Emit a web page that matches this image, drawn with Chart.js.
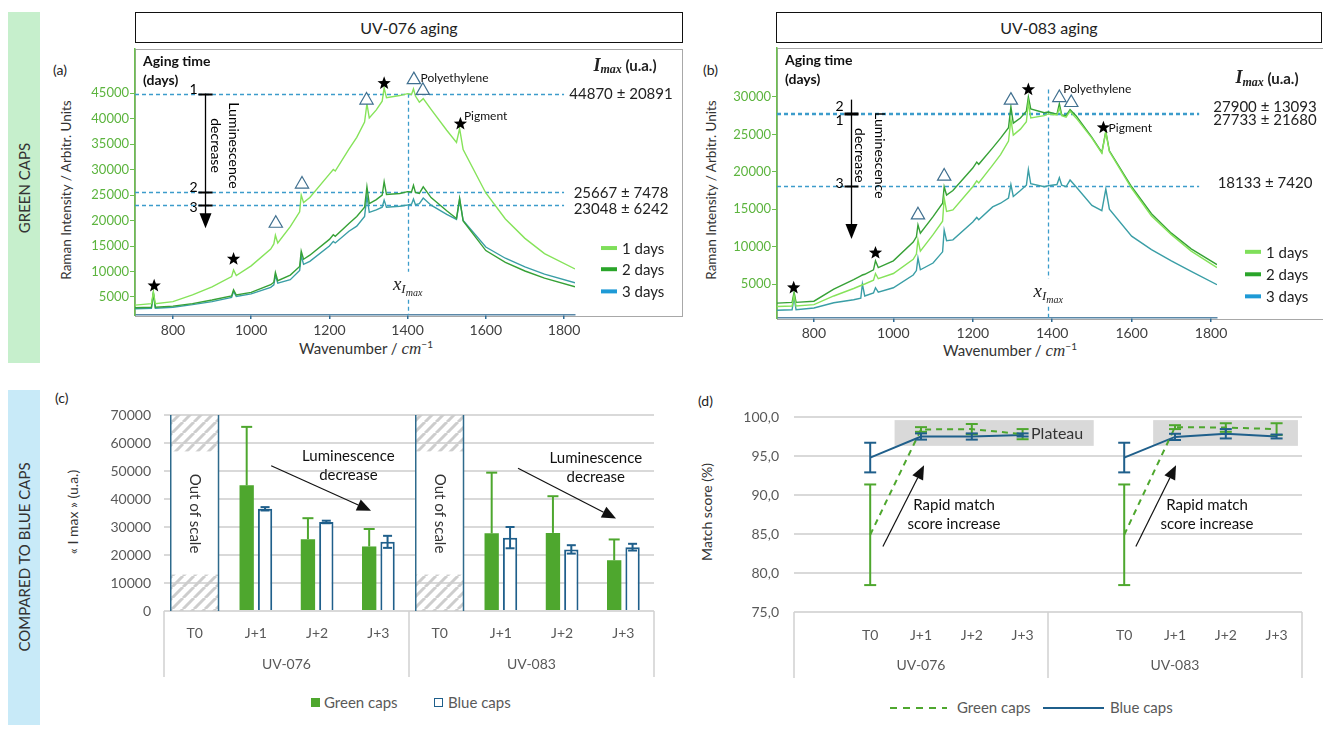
<!DOCTYPE html>
<html>
<head>
<meta charset="utf-8">
<script src="https://cdn.jsdelivr.net/npm/chart.js@4.4.0/dist/chart.umd.min.js"></script>
<style>
  body { margin: 0; width: 1323px; height: 730px; position: relative; overflow: hidden; background: #fff;
         font-family: Lato, "Open Sans", sans-serif; color: #222; }
  .abs { position: absolute; }
  canvas { position: absolute; }
  .rot { position: absolute; transform: translate(-50%, -50%) rotate(-90deg); white-space: nowrap; }
  .ctr { position: absolute; transform: translate(-50%, -50%); white-space: nowrap; }
  .titlebox { position: absolute; border: 1.5px solid #111; height: 29px; line-height: 29px; text-align: center; font-size: 16px; }
  .frame { position: absolute; border: 1px solid #a8a8a8; }
  .leg { position: absolute; font-size: 15px; color: #595959; line-height: 18px; white-space: nowrap; }
</style>
</head>
<body>

<div class="abs" style="left:8px;top:12px;width:32px;height:351px;background:#c6efcc"></div>
<div class="rot" style="left:24px;top:188px;font-size:15px;color:#333">GREEN CAPS</div>
<div class="abs" style="left:8px;top:390px;width:32px;height:335px;background:#c8eaf8"></div>
<div class="rot" style="left:24px;top:557px;font-size:15px;color:#333">COMPARED TO BLUE CAPS</div>

<div class="titlebox" style="left:135px;top:12px;width:546px">UV-076 aging</div>
<div class="titlebox" style="left:776px;top:12px;width:544px">UV-083 aging</div>

<div class="frame" style="left:135px;top:49px;width:546px;height:266px"></div>
<div class="frame" style="left:777px;top:48px;width:560px;height:270px"></div>

<div class="abs" style="left:53px;top:61px;font-size:14px">(a)</div>
<div class="abs" style="left:703px;top:61px;font-size:14px">(b)</div>
<div class="abs" style="left:55px;top:389px;font-size:14px">(c)</div>
<div class="abs" style="left:698px;top:392px;font-size:14px">(d)</div>

<div class="rot" style="left:66px;top:190px;font-size:13.5px;color:#333">Raman Intensity / Arbitr. Units</div>
<div class="rot" style="left:711px;top:190px;font-size:13.5px;color:#333">Raman Intensity / Arbitr. Units</div>
<div class="ctr" style="left:366px;top:348px;font-size:15px;color:#333">Wavenumber / <i style="font-family:'Liberation Serif',serif;font-size:17px">cm</i><sup style="font-size:10px">−1</sup></div>
<div class="ctr" style="left:1010px;top:350px;font-size:15px;color:#333">Wavenumber / <i style="font-family:'Liberation Serif',serif;font-size:17px">cm</i><sup style="font-size:10px">−1</sup></div>
<div class="rot" style="left:72px;top:512px;font-size:14px;color:#333">« I max » (u.a.)</div>
<div class="rot" style="left:706px;top:512px;font-size:14px;color:#333">Match score (%)</div>

<canvas id="specA" width="650" height="330" style="left:40px;top:44px"></canvas>
<canvas id="specB" width="633" height="330" style="left:690px;top:44px"></canvas>
<canvas id="barsC" width="640" height="290" style="left:40px;top:400px"></canvas>
<canvas id="scoreD" width="633" height="300" style="left:690px;top:395px"></canvas>

<div class="abs" style="left:311px;top:698px;width:9px;height:9px;background:#4ea72e"></div>
<div class="leg" style="left:324px;top:693px">Green caps</div>
<div class="abs" style="left:434px;top:698px;width:7px;height:7px;border:1.5px solid #1f5f8b"></div>
<div class="leg" style="left:448px;top:693px">Blue caps</div>

<svg class="abs" style="left:885px;top:700px" width="70" height="16">
  <line x1="5" y1="8" x2="62" y2="8" stroke="#4ea72e" stroke-width="2" stroke-dasharray="7,6"/>
</svg>
<div class="leg" style="left:957px;top:698px">Green caps</div>
<svg class="abs" style="left:1040px;top:700px" width="70" height="16">
  <line x1="3" y1="8" x2="64" y2="8" stroke="#1f5f8b" stroke-width="2"/>
</svg>
<div class="leg" style="left:1110px;top:698px">Blue caps</div>

<script>
// ---------- spectra (a) UV-076 ----------
const wnA = [703, 745, 750, 755, 800, 850, 900, 950, 955, 962, 1000, 1050, 1058, 1062, 1068, 1100, 1124, 1128, 1134, 1150,
             1200, 1210, 1215, 1250, 1270, 1290, 1296, 1302, 1320, 1335, 1340, 1346, 1380, 1400, 1410, 1415, 1420, 1430, 1440, 1460,
             1500, 1525, 1533, 1542, 1600, 1650, 1700, 1750, 1828];
const a1Day = [3400, 3700, 6000, 3700, 4100, 5400, 7000, 9000, 10300, 9200, 11100, 14400, 15400, 17100, 15600, 18800, 21700, 25000, 23500, 24500,
               29100, 30000, 29700, 34000, 36300, 39300, 42900, 40100, 41700, 43400, 46000, 44100, 44500, 44870, 44700, 45800, 44400, 43200, 43900, 41800,
               37700, 35300, 38000, 33900, 25400, 20300, 16500, 13500, 10500];
const a2Day = [2900, 3000, 5800, 3000, 3200, 3700, 4400, 5200, 6400, 5400, 5900, 7400, 7900, 9800, 8200, 9300, 11000, 14000, 12400, 13200,
               16300, 17200, 16900, 19400, 20800, 22600, 26600, 23300, 24100, 25000, 27600, 25100, 25300, 25667, 25600, 26900, 25500, 25300, 26600, 24500,
               21900, 20400, 24300, 19900, 14100, 11800, 10100, 8700, 7000];
const a3Day = [2700, 2800, 5700, 2800, 3000, 3500, 4100, 4900, 6100, 5100, 5600, 6900, 7400, 9300, 7700, 8400, 10200, 13100, 11400, 12000,
               15000, 15900, 15600, 17900, 18900, 20800, 24800, 21600, 22100, 22600, 24000, 22600, 22800, 23048, 23200, 24200, 23100, 23300, 24400, 23000,
               21200, 20200, 24200, 20000, 14800, 12600, 10900, 9500, 7800];
const imaxA = [44870, 25667, 23048];
const imaxErrA = [20891, 7478, 6242];

// ---------- spectra (b) UV-083 ----------
const wnB = [707, 745, 750, 755, 800, 850, 900, 918, 922, 928, 950, 955, 962, 1000, 1050, 1058, 1062, 1068, 1100, 1124,
             1128, 1134, 1150, 1200, 1210, 1215, 1250, 1270, 1290, 1296, 1302, 1320, 1335, 1340, 1346, 1380, 1390, 1412, 1418, 1424,
             1435, 1445, 1460, 1500, 1525, 1535, 1544, 1600, 1650, 1700, 1750, 1815];
const b1Day = [2000, 2050, 3500, 2050, 2250, 3400, 4400, 4800, 4900, 5000, 5500, 6400, 5700, 6400, 8300, 9000, 10900, 9400, 11600, 13400,
               16500, 14700, 14900, 18000, 18800, 18500, 20900, 22300, 24100, 27000, 24900, 25700, 26700, 29300, 27200, 27500, 27733, 27600, 28500, 27500,
               27300, 28100, 27200, 24500, 22500, 25300, 22700, 17800, 14100, 11600, 9400, 7200];
const b2Day = [2450, 2550, 3900, 2550, 2700, 4300, 5600, 6100, 6200, 6300, 6900, 8100, 7200, 8100, 10600, 11300, 12900, 11800, 14000, 15800,
               18000, 16900, 17500, 20500, 21300, 21000, 23200, 24500, 25900, 28700, 26500, 27200, 28100, 30000, 28400, 27900, 28000, 27700, 29100, 27600,
               27500, 28300, 27500, 24600, 22600, 25400, 22800, 18000, 14400, 11800, 9700, 7600];
const b3Day = [1500, 1550, 3200, 1550, 1800, 2500, 2900, 3100, 5000, 3400, 3800, 4500, 3900, 4500, 6200, 6800, 8500, 6900, 7800, 9300,
               12200, 10800, 10900, 13300, 13900, 13600, 15300, 15800, 16500, 18300, 16700, 17500, 18200, 20300, 18400, 18000, 18133, 18300, 19200, 18200,
               18000, 18900, 18000, 15500, 14800, 17700, 15000, 11400, 9600, 8100, 6700, 4900];
const imaxB = [27733, 27900, 18133];
const imaxErrB = [21680, 13093, 7420];

const dayLabels = ['1 days', '2 days', '3 days'];
const xTicksSpec = [800, 1000, 1200, 1400, 1600, 1800];
const yTicksA = [5000, 10000, 15000, 20000, 25000, 30000, 35000, 40000, 45000];
const yTicksB = [5000, 10000, 15000, 20000, 25000, 30000];

// ---------- (c) I max bars ----------
const groupLabels = ['UV-076', 'UV-083'];
const barCats = ['T0', 'J+1', 'J+2', 'J+3', 'T0', 'J+1', 'J+2', 'J+3'];
const greenImax = [null, 44870, 25667, 23048, null, 27733, 27900, 18133];
const greenImaxErr = [null, 20891, 7478, 6242, null, 21680, 13093, 7420];
const blueImax = [null, 36500, 31800, 24700, null, 26200, 22000, 22800];
const blueImaxErr = [null, 600, 450, 2150, null, 3800, 1500, 1200];
const outOfScale = [true, false, false, false, true, false, false, false];
const yTicksC = [0, 10000, 20000, 30000, 40000, 50000, 60000, 70000];

// ---------- (d) match score ----------
const scoreCats = ['', 'T0', 'J+1', 'J+2', 'J+3', '', 'T0', 'J+1', 'J+2', 'J+3'];
const greenScore = [null, 84.9, 98.4, 98.45, 97.8, null, 84.9, 98.7, 98.65, 98.45];
const greenScoreErr = [null, 6.45, 0.3, 0.65, 0.65, null, 6.45, 0.25, 0.55, 0.75];
const blueScore = [null, 94.8, 97.5, 97.5, 97.7, null, 94.8, 97.45, 97.85, 97.5];
const blueScoreErr = [null, 1.9, 0.4, 0.4, 0.2, null, 1.9, 0.4, 0.6, 0.25];
const yTicksD = [75, 80, 85, 90, 95, 100];

const GREEN = '#4ea72e', BLUE = '#1f5f8b';
const lineColors = ['#86e35a', '#36a136', '#3a9ea6'];
const legendColors = ['#7fdf5a', '#2aa52a', '#1e9ad6'];
const SERIF = '"Liberation Serif", "DejaVu Serif", serif';

Chart.defaults.font.family = 'Lato, "Open Sans", sans-serif';
Chart.defaults.animation = false;

function seg(ctx, x1, y1, x2, y2) {
  ctx.beginPath(); ctx.moveTo(x1, y1); ctx.lineTo(x2, y2); ctx.stroke();
}
function arrow(ctx, x1, y1, x2, y2, head, width) {
  const ang = Math.atan2(y2 - y1, x2 - x1);
  const bx = x2 - head * Math.cos(ang), by = y2 - head * Math.sin(ang);
  seg(ctx, x1, y1, bx, by);
  ctx.beginPath();
  ctx.moveTo(x2, y2);
  ctx.lineTo(bx + width / 2 * Math.sin(ang), by - width / 2 * Math.cos(ang));
  ctx.lineTo(bx - width / 2 * Math.sin(ang), by + width / 2 * Math.cos(ang));
  ctx.closePath(); ctx.fill();
}
function star(ctx, cx, cy, r) {
  ctx.beginPath();
  for (let k = 0; k < 10; k++) {
    const rr = k % 2 ? r * 0.42 : r, t = -Math.PI / 2 + k * Math.PI / 5;
    ctx.lineTo(cx + rr * Math.cos(t), cy + rr * Math.sin(t));
  }
  ctx.closePath(); ctx.fill();
}
function tri(ctx, cx, cy, r) {
  ctx.beginPath();
  ctx.moveTo(cx, cy - r); ctx.lineTo(cx + r * 0.95, cy + r * 0.65); ctx.lineTo(cx - r * 0.95, cy + r * 0.65);
  ctx.closePath(); ctx.fill(); ctx.stroke();
}
// draw a list of [text, font, dy] parts centred on cx
function richText(ctx, parts, cx, cy) {
  let total = 0;
  parts.forEach(p => { ctx.font = p[1]; total += ctx.measureText(p[0]).width; });
  let px = cx - total / 2;
  ctx.textAlign = 'left';
  parts.forEach(p => { ctx.font = p[1]; ctx.fillText(p[0], px, cy + p[2]); px += ctx.measureText(p[0]).width; });
}

function specNotes(o) {
  return {
    id: 'specNotes',
    beforeDatasetsDraw(chart) {
      const {ctx, chartArea: a, scales: {x, y}} = chart;
      ctx.save();
      ctx.strokeStyle = '#3c9ccb'; ctx.lineWidth = 1.3; ctx.setLineDash([4, 3]);
      o.imax.forEach(v => {
        const py = Math.round(y.getPixelForValue(v)) + 0.5;
        seg(ctx, a.left, py, x.getPixelForValue(o.dashTo), py);
      });
      const vx = Math.round(x.getPixelForValue(o.xImax)) + 0.5;
      const ly = y.getPixelForValue(o.xLabelAt);
      seg(ctx, vx, y.getPixelForValue(o.vTop), vx, ly - 15);
      seg(ctx, vx, ly + 13, vx, a.bottom);
      ctx.restore();
    },
    afterDatasetsDraw(chart) {
      const {ctx, chartArea: a, scales: {x, y}} = chart;
      const X = w => x.getPixelForValue(w), Y = v => y.getPixelForValue(v);
      ctx.save();
      ctx.textBaseline = 'middle';
      ctx.fillStyle = '#000';
      o.stars.forEach(p => star(ctx, X(p[0]), Y(p[1]), 7));
      ctx.fillStyle = '#fff'; ctx.strokeStyle = '#3f6f8f'; ctx.lineWidth = 1.2;
      o.tris.forEach(p => tri(ctx, X(p[0]), Y(p[1]), 7));

      ctx.fillStyle = '#111'; ctx.font = '12px Lato'; ctx.textAlign = 'left';
      ctx.fillText('Polyethylene', X(o.polyAt[0]), Y(o.polyAt[1]));
      ctx.fillText('Pigment', X(o.pigAt[0]), Y(o.pigAt[1]));

      ctx.font = 'bold 14px Lato';
      ctx.fillText('Aging time', a.left + 8, a.top + 12);
      ctx.fillText('(days)', a.left + 8, a.top + 31);

      // luminescence arrow with day ticks
      const ax = Math.round(X(o.arrowX)) + 0.5, tip = Y(o.arrowTip);
      ctx.strokeStyle = '#000'; ctx.fillStyle = '#000'; ctx.lineWidth = 1.3;
      seg(ctx, ax, Y(o.arrowTop), ax, tip - 12);
      ctx.beginPath(); ctx.moveTo(ax - 6, tip - 15); ctx.lineTo(ax + 6, tip - 15); ctx.lineTo(ax, tip); ctx.closePath(); ctx.fill();
      ctx.lineWidth = 2;
      o.imax.forEach(v => seg(ctx, ax - 7, Math.round(Y(v)) + 0.5, ax + 7, Math.round(Y(v)) + 0.5));
      ctx.font = '14px Lato'; ctx.textAlign = 'right';
      o.tickLab.forEach(p => ctx.fillText(p[0], ax - 8, Y(p[1])));
      ctx.textAlign = 'center'; ctx.font = '14px Lato';
      [['Luminescence', o.lumDx[0]], ['decrease', o.lumDx[1]]].forEach(p => {
        ctx.save(); ctx.translate(ax + p[1], Y(o.lumAt)); ctx.rotate(Math.PI / 2);
        ctx.fillText(p[0], 0, 0); ctx.restore();
      });

      // x Imax label
      const vx = X(o.xImax), ly = Y(o.xLabelAt);
      ctx.fillStyle = '#222';
      richText(ctx, [['x', 'italic 19px ' + SERIF, 0], ['I', 'italic 13px ' + SERIF, 5], ['max', 'italic 10px ' + SERIF, 9]], vx, ly - 2);

      // Imax header and values
      richText(ctx, [['I', 'bold italic 18px ' + SERIF, 0], ['max', 'bold italic 12px ' + SERIF, 4], [' (u.a.)', 'bold 15px Lato', 0]],
               a.right + o.headX, Y(o.headAt));
      ctx.font = '15px Lato'; ctx.textAlign = 'center';
      o.imax.forEach((v, i) => ctx.fillText(v + ' \u00b1 ' + o.err[i], a.right + o.valX, Y(o.textAt[i])));

      // legend
      ctx.textAlign = 'left'; ctx.font = '15px Lato';
      dayLabels.forEach((t, i) => {
        const ly2 = Y(o.legendAt[i]);
        ctx.strokeStyle = legendColors[i]; ctx.lineWidth = 4;
        seg(ctx, a.right + o.legX, ly2, a.right + o.legX + 16, ly2);
        ctx.fillStyle = '#222';
        ctx.fillText(t, a.right + o.legX + 21, ly2 + 1);
      });
      ctx.restore();
    }
  };
}

function specChart(id, wn, days, o) {
  return new Chart(document.getElementById(id), {
    type: 'line',
    data: {
      datasets: days.map((d, i) => ({
        label: dayLabels[i],
        data: wn.map((w, j) => ({x: w, y: d[j]})),
        borderColor: lineColors[i], borderWidth: 1.4, pointRadius: 0, tension: 0
      }))
    },
    options: {
      responsive: false, events: [],
      layout: {padding: o.pad},
      plugins: {legend: {display: false}, tooltip: {enabled: false}},
      scales: {
        x: {
          type: 'linear', min: o.xMin, max: o.xMax,
          afterBuildTicks: s => { s.ticks = xTicksSpec.map(v => ({value: v})); },
          afterFit: s => { s.height = o.xH; s.paddingLeft = 0; s.paddingRight = 0; },
          grid: {drawOnChartArea: false, color: '#2f6b93', tickLength: 4, lineWidth: 1.5},
          border: {color: '#5b88a8', width: 1.5},
          ticks: {color: '#404040', font: {size: 14}, padding: 3, maxRotation: 0, callback: v => String(v)}
        },
        y: {
          min: o.yMin, max: o.yMax,
          afterBuildTicks: s => { s.ticks = o.yTicks.map(v => ({value: v})); },
          afterFit: s => { s.width = o.yW; s.paddingTop = 0; s.paddingBottom = 0; },
          grid: {drawOnChartArea: false, color: '#6dbf4f', tickLength: 5},
          border: {color: '#6dbf4f', width: 1.5},
          ticks: {color: '#5cb43e', font: {size: 13}, padding: 1, callback: v => String(v)}
        }
      }
    },
    plugins: [specNotes(o)]
  });
}

specChart('specA', wnA, [a1Day, a2Day, a3Day], {
  pad: {left: 0, right: 115, top: 5, bottom: 0}, xH: 59, yW: 95,
  xMin: 703, xMax: 1828, yMin: 1470, yMax: 53630, yTicks: yTicksA,
  imax: imaxA, err: imaxErrA, textAt: [44870, 25400, 22300],
  dashTo: 1800, xImax: 1400, vTop: 44870, xLabelAt: 7000,
  stars: [[752, 7200], [955, 12450], [1340, 46900], [1535, 38960]],
  tris: [[1063, 19570], [1130, 27260], [1295, 43725], [1416, 47730], [1439, 45630]],
  polyAt: [1433, 47900], pigAt: [1544, 40550],
  arrowX: 882, arrowTop: 44870, arrowTip: 18500,
  tickLab: [['1', 45700], ['2', 26500], ['3', 22600]],
  lumDx: [28, 10], lumAt: 34700,
  headX: 50, headAt: 50270, valX: 46,
  legX: 26, legendAt: [14600, 10450, 6100]
});

specChart('specB', wnB, [b1Day, b2Day, b3Day], {
  pad: {left: 0, right: 106, top: 4, bottom: 0}, xH: 56, yW: 87,
  xMin: 707, xMax: 1815, yMin: 455, yMax: 36550, yTicks: yTicksB,
  imax: imaxB, err: imaxErrB, textAt: [26900, 28700, 18500],
  dashTo: 1770, xImax: 1390, vTop: 31000, xLabelAt: 3700,
  stars: [[749, 4500], [955, 9150], [1340, 31000], [1529, 25900]],
  tris: [[1062, 14320], [1128, 19500], [1296, 29650], [1418, 30000], [1448, 29340]],
  polyAt: [1428, 31000], pigAt: [1542, 25900],
  arrowX: 893, arrowTop: 29650, arrowTip: 11000,
  tickLab: [['1', 26900], ['2', 28700], ['3', 18450]],
  lumDx: [28, 8], lumAt: 22200,
  headX: 50, headAt: 32430, valX: 48,
  legX: 28, legendAt: [9300, 6300, 3350]
});

// ---------- shared helpers for (c) and (d) ----------
function groupAxis(chart, n) {
  const {ctx, chartArea: a} = chart;
  const cw = (a.right - a.left) / n, per = n / groupLabels.length;
  ctx.save();
  ctx.strokeStyle = '#d0d0d0'; ctx.lineWidth = 1.5;
  for (let g = 0; g <= groupLabels.length; g++) seg(ctx, a.left + g * per * cw, a.bottom, a.left + g * per * cw, a.bottom + 66);
  ctx.fillStyle = '#595959'; ctx.font = '14px Lato'; ctx.textAlign = 'center'; ctx.textBaseline = 'middle';
  groupLabels.forEach((t, g) => ctx.fillText(t, a.left + (g + 0.5) * per * cw, a.bottom + 53));
  ctx.restore();
}
function errorBars(chart, keyUp, keyDown, capW) {
  const {ctx, scales: {y}} = chart;
  chart.data.datasets.forEach((ds, di) => {
    const meta = chart.getDatasetMeta(di);
    ctx.save();
    ctx.strokeStyle = ds.errColor; ctx.lineWidth = 2; ctx.setLineDash([]);
    ds.data.forEach((v, i) => {
      if (v == null) return;
      const px = meta.data[i].x;
      const up = ds[keyUp] ? ds[keyUp][i] : 0, dn = ds[keyDown] ? ds[keyDown][i] : 0;
      const top = y.getPixelForValue(v + up), bot = y.getPixelForValue(v - dn), cw = capW[di] / 2;
      seg(ctx, px, top, px, bot);
      if (up) seg(ctx, px - cw, top, px + cw, top);
      if (dn) seg(ctx, px - cw, bot, px + cw, bot);
    });
    ctx.restore();
  });
}

const hatchTile = (() => {
  const c = document.createElement('canvas');
  c.width = 11; c.height = 11;
  const g = c.getContext('2d');
  g.strokeStyle = '#cdcdcd'; g.lineWidth = 3;
  [[-11, 11], [0, 11], [11, 11]].forEach(([ox]) => { g.beginPath(); g.moveTo(ox, 11); g.lineTo(ox + 11, 0); g.stroke(); });
  return c;
})();

const barNotes = {
  id: 'barNotes',
  beforeDatasetsDraw(chart) {
    const {ctx, chartArea: a, scales: {x, y}} = chart;
    const cw = (a.right - a.left) / barCats.length;
    ctx.save();
    outOfScale.forEach((flag, i) => {
      if (!flag) return;
      const cx = x.getPixelForValue(i), w = cw * 0.78, l = cx - w / 2;
      const top = y.getPixelForValue(yTicksC[yTicksC.length - 1]), bot = y.getPixelForValue(0);
      ctx.fillStyle = ctx.createPattern(hatchTile, 'repeat');
      ctx.fillRect(l, top, w, bot - top);
      ctx.fillStyle = '#fff';
      ctx.fillRect(l, y.getPixelForValue(57000), w, y.getPixelForValue(13000) - y.getPixelForValue(57000));
      ctx.strokeStyle = '#2e6a8c'; ctx.lineWidth = 1.5;
      seg(ctx, l, top, l, bot); seg(ctx, l + w, top, l + w, bot);
      ctx.save();
      ctx.translate(cx, y.getPixelForValue(34800)); ctx.rotate(Math.PI / 2);
      ctx.fillStyle = '#333'; ctx.font = '15px Lato'; ctx.textAlign = 'center'; ctx.textBaseline = 'middle';
      ctx.fillText('Out of scale', 0, 0);
      ctx.restore();
    });
    ctx.restore();
  },
  afterDatasetsDraw(chart) {
    errorBars(chart, 'errUp', 'errDown', [11, 9]);
    const {ctx, scales: {x, y}} = chart;
    ctx.save();
    ctx.fillStyle = '#111'; ctx.strokeStyle = '#111'; ctx.lineWidth = 1.2;
    ctx.font = '15px Lato'; ctx.textAlign = 'center'; ctx.textBaseline = 'middle';
    [[2.51, 55300, 48500, 1.25, 51900, 2.88, 35800], [6.55, 54600, 47800, 5.28, 51000, 6.88, 33000]].forEach(n => {
      ctx.fillText('Luminescence', x.getPixelForValue(n[0]), y.getPixelForValue(n[1]));
      ctx.fillText('decrease', x.getPixelForValue(n[0]), y.getPixelForValue(n[2]));
      arrow(ctx, x.getPixelForValue(n[3]), y.getPixelForValue(n[4]), x.getPixelForValue(n[5]), y.getPixelForValue(n[6]), 14, 12);
    });
    ctx.restore();
  },
  afterDraw(chart) { groupAxis(chart, barCats.length); }
};

new Chart(document.getElementById('barsC'), {
  type: 'bar',
  data: {
    labels: barCats,
    datasets: [
      {label: 'Green caps', data: greenImax, backgroundColor: GREEN, borderWidth: 0, errUp: greenImaxErr, errColor: GREEN},
      {label: 'Blue caps', data: blueImax, backgroundColor: '#fff', borderColor: BLUE, borderWidth: 2,
       errUp: blueImaxErr, errDown: blueImaxErr, errColor: BLUE}
    ]
  },
  options: {
    responsive: false, events: [],
    categoryPercentage: 0.6, barPercentage: 0.78,
    layout: {padding: {left: 0, right: 26, top: 15, bottom: 0}},
    plugins: {legend: {display: false}, tooltip: {enabled: false}},
    scales: {
      x: {
        afterFit: s => { s.height = 79; s.paddingLeft = 0; s.paddingRight = 0; },
        grid: {display: false, drawTicks: false}, border: {display: false},
        ticks: {color: '#595959', font: {size: 14}, padding: 14, autoSkip: false, maxRotation: 0}
      },
      y: {
        min: 0, max: 70000,
        afterBuildTicks: s => { s.ticks = yTicksC.map(v => ({value: v})); },
        afterFit: s => { s.width = 124; s.paddingTop = 0; s.paddingBottom = 0; },
        grid: {color: '#d9d9d9', lineWidth: 2, drawTicks: false}, border: {display: false},
        ticks: {color: '#595959', font: {size: 14}, padding: 13, callback: v => String(v)}
      }
    }
  },
  plugins: [barNotes]
});

const scoreNotes = {
  id: 'scoreNotes',
  beforeDatasetsDraw(chart) {
    const {ctx, scales: {x, y}} = chart;
    ctx.save();
    ctx.fillStyle = '#d9d9d9';
    [[1.48, 5.4], [6.57, 9.42]].forEach(b => {
      const l = x.getPixelForValue(b[0]), r = x.getPixelForValue(b[1]);
      const t = y.getPixelForValue(99.6), bt = y.getPixelForValue(96.3);
      ctx.fillRect(l, t, r - l, bt - t);
    });
    ctx.restore();
  },
  afterDatasetsDraw(chart) {
    errorBars(chart, 'err', 'err', [12, 12]);
    const {ctx, scales: {x, y}} = chart;
    ctx.save();
    ctx.textAlign = 'center'; ctx.textBaseline = 'middle';
    ctx.fillStyle = '#333'; ctx.font = '16px Lato';
    ctx.fillText('Plateau', x.getPixelForValue(4.68), y.getPixelForValue(97.85));
    ctx.fillStyle = '#111'; ctx.strokeStyle = '#111'; ctx.lineWidth = 1.2; ctx.font = '15px Lato';
    [[2.65, 1.25, 2.06], [7.63, 6.23, 7.02]].forEach(n => {
      ctx.fillText('Rapid match', x.getPixelForValue(n[0]), y.getPixelForValue(88.7));
      ctx.fillText('score increase', x.getPixelForValue(n[0]), y.getPixelForValue(86.2));
      arrow(ctx, x.getPixelForValue(n[1]), y.getPixelForValue(83.4), x.getPixelForValue(n[2]), y.getPixelForValue(93.8), 14, 12);
    });
    ctx.restore();
  },
  afterDraw(chart) { groupAxis(chart, scoreCats.length); }
};

new Chart(document.getElementById('scoreD'), {
  type: 'line',
  data: {
    labels: scoreCats,
    datasets: [
      {label: 'Green caps', data: greenScore, borderColor: GREEN, borderDash: [6, 5], borderWidth: 2, pointRadius: 0,
       err: greenScoreErr, errColor: GREEN},
      {label: 'Blue caps', data: blueScore, borderColor: BLUE, borderWidth: 2, pointRadius: 0, err: blueScoreErr, errColor: BLUE}
    ]
  },
  options: {
    responsive: false, events: [],
    layout: {padding: {left: 0, right: 21, top: 22, bottom: 0}},
    plugins: {legend: {display: false}, tooltip: {enabled: false}},
    scales: {
      x: {
        offset: true,
        afterFit: s => { s.height = 83; s.paddingLeft = 0; s.paddingRight = 0; },
        grid: {display: false, drawTicks: false}, border: {display: false},
        ticks: {color: '#595959', font: {size: 14}, padding: 15, autoSkip: false, maxRotation: 0}
      },
      y: {
        min: 75, max: 100,
        afterBuildTicks: s => { s.ticks = yTicksD.map(v => ({value: v})); },
        afterFit: s => { s.width = 104; s.paddingTop = 0; s.paddingBottom = 0; },
        grid: {color: '#d9d9d9', lineWidth: 2, drawTicks: false}, border: {display: false},
        ticks: {color: '#595959', font: {size: 14}, padding: 15, callback: v => v.toFixed(1).replace('.', ',')}
      }
    }
  },
  plugins: [scoreNotes]
});
</script>
</body>
</html>
